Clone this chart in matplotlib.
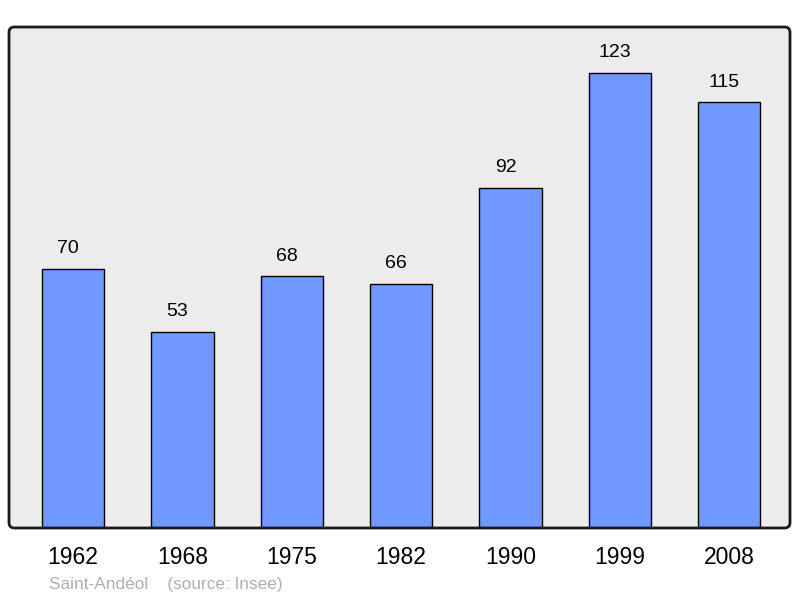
import matplotlib.pyplot as plt
from matplotlib.patches import FancyBboxPatch

years = ["1962", "1968", "1975", "1982", "1990", "1999", "2008"]
population = [70, 53, 68, 66, 92, 123, 115]

BAR_COLOR = "#7098ff"
BG_COLOR = "#ececec"

plt.rcParams["font.family"] = ["Liberation Sans", "DejaVu Sans"]

fig = plt.figure(figsize=(8, 5.98), dpi=100)
ax = fig.add_axes([9 / 800, 70 / 598, 781 / 800, 501 / 598])

x = list(range(len(years)))
ax.bar(x, population, width=0.57, color=BAR_COLOR, edgecolor="black",
       linewidth=1.0, zorder=2)

for xi, v in zip(x, population):
    ax.text(xi - 0.045, v + 3.2, str(v), ha="center", va="bottom",
            fontsize=14, color="black", zorder=4)

ax.set_xlim(-0.585, 6.555)
ax.set_ylim(0, 135.4)
ax.set_xticks(x)
ax.set_xticklabels(years, fontsize=16.5)
ax.tick_params(axis="x", length=0, pad=13)
ax.set_yticks([])
for s in ax.spines.values():
    s.set_visible(False)
ax.patch.set_visible(False)

# rounded frame
asp = 781 / 501
bg = FancyBboxPatch((0, 0), 1, 1, boxstyle="round,pad=0,rounding_size=0.007",
                    mutation_aspect=asp, transform=ax.transAxes,
                    facecolor=BG_COLOR, edgecolor="none", zorder=0, clip_on=False)
ax.add_patch(bg)
frame = FancyBboxPatch((0, 0), 1, 1, boxstyle="round,pad=0,rounding_size=0.007",
                       mutation_aspect=asp, transform=ax.transAxes,
                       facecolor="none", edgecolor="#1a1a1a", linewidth=2.0,
                       zorder=5, clip_on=False)
ax.add_patch(frame)

fig.text(49 / 800, 1 - 585 / 598, "Saint-Andéol    (source: Insee)",
         fontsize=12.4, color="#b0b0b0", ha="left", va="center")

fig.savefig("out.png", dpi=100)
